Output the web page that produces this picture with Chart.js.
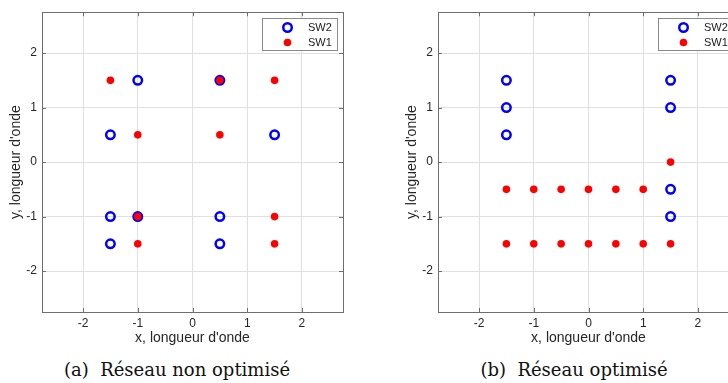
<!DOCTYPE html>
<html>
<head>
<meta charset="utf-8">
<script src="https://cdn.jsdelivr.net/npm/chart.js@4.4.1/dist/chart.umd.min.js"></script>
<style>
    body { margin: 0; width: 728px; height: 383px; overflow: hidden; background: #fff; position: relative; }
    canvas { position: absolute; top: 0; }
    .cap { position: absolute; top: 359px; font-family: "DejaVu Serif", serif; font-size: 18px; color: #111;
           white-space: pre; transform: translateX(-50%); }
</style>
</head>
<body>
<canvas id="chartA" width="350" height="348" style="left:0px"></canvas>
<canvas id="chartB" width="350" height="348" style="left:396px"></canvas>
<div class="cap" style="left:177px">(a)  Réseau non optimisé</div>
<div class="cap" style="left:574px">(b)  Réseau optimisé</div>
<script>
// axis ticks (wavelengths)
const tickValues = [-2, -1, 0, 1, 2];
const axisMin = -2.75;
const axisMax = 2.75;

// (a) non-optimised array
const aSw2X = [-1, 0.5, -1.5, 1.5, -1.5, -1, 0.5, -1.5, 0.5];
const aSw2Y = [1.5, 1.5, 0.5, 0.5, -1, -1, -1, -1.5, -1.5];
const aSw1X = [-1.5, 0.5, 1.5, -1, 0.5, -1, 1.5, -1, 1.5];
const aSw1Y = [1.5, 1.5, 1.5, 0.5, 0.5, -1, -1, -1.5, -1.5];

// (b) optimised array
const bSw2X = [-1.5, -1.5, -1.5, 1.5, 1.5, 1.5, 1.5];
const bSw2Y = [1.5, 1, 0.5, 1.5, 1, -0.5, -1];
const bSw1X = [1.5, -1.5, -1, -0.5, 0, 0.5, 1, -1.5, -1, -0.5, 0, 0.5, 1, 1.5];
const bSw1Y = [0, -0.5, -0.5, -0.5, -0.5, -0.5, -0.5, -1.5, -1.5, -1.5, -1.5, -1.5, -1.5, -1.5];

const seriesNames = ['SW2', 'SW1'];
const axisColor = '#6e6e6e';

function toPoints(xs, ys) {
    return xs.map((x, i) => ({ x: x, y: ys[i] }));
}

// box around the plot + inward tick marks (matlab style)
const boxPlugin = {
    id: 'boxPlugin',
    afterDatasetsDraw(chart) {
        const ctx = chart.ctx;
        const a = chart.chartArea;
        const xs = chart.scales.x, ys = chart.scales.y;
        ctx.save();
        ctx.strokeStyle = axisColor;
        ctx.lineWidth = 1;
        ctx.beginPath();
        tickValues.forEach(v => {
            const px = Math.round(xs.getPixelForValue(v)) + 0.5;
            ctx.moveTo(px, a.bottom); ctx.lineTo(px, a.bottom - 4);
            ctx.moveTo(px, a.top); ctx.lineTo(px, a.top + 4);
            const py = Math.round(ys.getPixelForValue(v)) + 0.5;
            ctx.moveTo(a.left, py); ctx.lineTo(a.left + 4, py);
            ctx.moveTo(a.right, py); ctx.lineTo(a.right - 4, py);
        });
        ctx.stroke();
        ctx.strokeRect(Math.round(a.left) + 0.5, Math.round(a.top) + 0.5,
            Math.round(a.right - a.left), Math.round(a.bottom - a.top));
        ctx.restore();
    }
};

// legend inside the top right corner, with a frame
const boxLegend = {
    id: 'boxLegend',
    afterDraw(chart) {
        const ctx = chart.ctx;
        const a = chart.chartArea;
        const w = 75, h = 32;
        const left = Math.round(a.right - 6 - w) + 0.5;
        const top = Math.round(a.top + 6) + 0.5;
        ctx.save();
        ctx.fillStyle = '#fff';
        ctx.fillRect(left, top, w, h);
        ctx.strokeStyle = '#8a8a8a';
        ctx.lineWidth = 1;
        ctx.strokeRect(left, top, w, h);
        ctx.font = '11px "Liberation Sans", Arial, sans-serif';
        ctx.textBaseline = 'middle';
        chart.data.datasets.forEach((ds, i) => {
            const cy = top + 9 + i * 15;
            const cx = left + 25;
            ctx.beginPath();
            ctx.arc(cx, cy, ds.pointRadius, 0, Math.PI * 2);
            if (ds.borderWidth > 0) {
                ctx.strokeStyle = ds.borderColor;
                ctx.lineWidth = ds.borderWidth;
                ctx.stroke();
            } else {
                ctx.fillStyle = ds.backgroundColor;
                ctx.fill();
            }
            ctx.fillStyle = '#1a1a1a';
            ctx.fillText(ds.label, left + 45.5, cy + 0.5);
        });
        ctx.restore();
    }
};

function axis(title, horizontal) {
    return {
        type: 'linear',
        min: axisMin,
        max: axisMax,
        afterBuildTicks: s => { s.ticks = tickValues.map(v => ({ value: v })); },
        afterFit: s => {
            if (horizontal) s.height = 36; else s.width = 42;
        },
        grid: { color: '#e0e0e0', drawTicks: false },
        border: { display: false },
        ticks: {
            padding: horizontal ? 4 : 5,
            color: '#262626',
            font: { family: '"Liberation Sans", Arial, sans-serif', size: 12 }
        },
        title: {
            display: true,
            text: title,
            color: '#262626',
            padding: horizontal ? { top: 0, bottom: 1 } : { top: 8, bottom: 0 },
            font: { family: '"Liberation Sans", Arial, sans-serif', size: 14 }
        }
    };
}

function makeChart(id, sw2, sw1) {
    const ctx = document.getElementById(id).getContext('2d');
    return new Chart(ctx, {
        type: 'scatter',
        data: {
            datasets: [{
                label: seriesNames[0],
                data: sw2,
                order: 1,
                pointRadius: 4.25,
                pointHoverRadius: 4.25,
                borderWidth: 2.5,
                borderColor: '#0000ff',
                pointBorderColor: '#0000ff',
                backgroundColor: 'rgba(0,0,0,0)',
                pointBackgroundColor: 'rgba(0,0,0,0)'
            }, {
                label: seriesNames[1],
                data: sw1,
                order: 0,
                pointRadius: 3.8,
                pointHoverRadius: 3.8,
                borderWidth: 0,
                pointBorderWidth: 0,
                backgroundColor: '#ff0000',
                pointBackgroundColor: '#ff0000'
            }]
        },
        options: {
            responsive: false,
            animation: false,
            events: [],
            layout: { padding: { top: 10, right: 7, left: 0, bottom: 0 } },
            scales: {
                x: axis('x, longueur d\'onde', true),
                y: axis('y, longueur d\'onde', false)
            },
            plugins: {
                legend: { display: false },
                tooltip: { enabled: false }
            }
        },
        plugins: [boxPlugin, boxLegend]
    });
}

window.onload = function() {
    makeChart('chartA', toPoints(aSw2X, aSw2Y), toPoints(aSw1X, aSw1Y));
    makeChart('chartB', toPoints(bSw2X, bSw2Y), toPoints(bSw1X, bSw1Y));
};
</script>
</body>
</html>
